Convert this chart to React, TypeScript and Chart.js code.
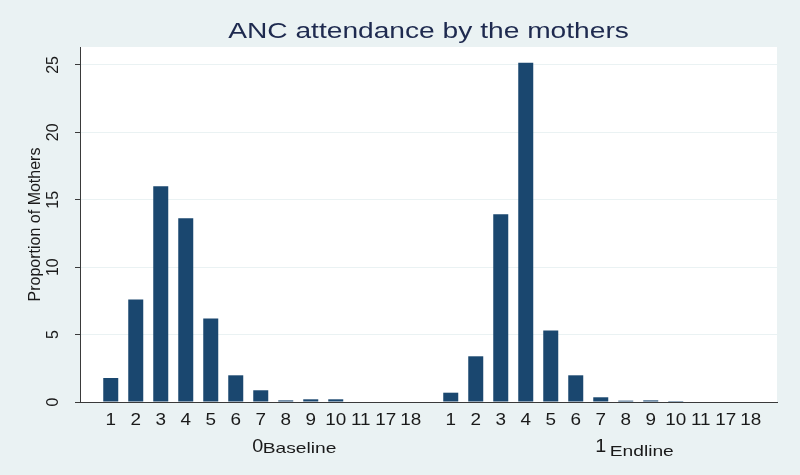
import React, { useEffect, useRef } from 'react';
import { Chart, registerables } from 'chart.js';

Chart.register(...registerables);

// ---- data ----
const categories = ['1', '2', '3', '4', '5', '6', '7', '8', '9', '10', '11', '17', '18'];
const baselineValues = [1.78, 7.6, 16.0, 13.62, 6.2, 1.98, 0.87, 0.12, 0.2, 0.2, 0, 0, 0];
const endlineValues = [0.69, 3.39, 13.93, 25.17, 5.3, 1.98, 0.35, 0.1, 0.12, 0.07, 0, 0, 0];
const groupCodes = ['0', '1'];
const groupNames = ['Baseline', 'Endline'];
const yTickValues = [0, 5, 10, 15, 20, 25];
const chartTitle = 'ANC attendance by the mothers';
const yTitle = 'Proportion of Mothers';

// ---- style ----
const FONT = '"Liberation Sans", Arial, Helvetica, sans-serif';
const BG = '#eaf2f3';
const BAR = '#1a476f';
const AXIS = '#3a3a3a';
const TEXT = '#1a1a1a';
const GAP = 1.6;
const HSCALE = 1.28; // horizontal stretch of the text in the reference

function drawStretched(ctx: CanvasRenderingContext2D, text: string, x: number, y: number, align: CanvasTextAlign, sx: number) {
  ctx.save();
  ctx.translate(x, y);
  ctx.scale(sx, 1);
  ctx.textAlign = align;
  ctx.textBaseline = 'alphabetic';
  ctx.fillText(text, 0, 0);
  ctx.restore();
}

export default function App() {
  const ref = useRef<HTMLCanvasElement>(null);

  useEffect(() => {
    if (!ref.current) return;
    const series = [baselineValues, endlineValues];
    const step = categories.length - 1 + GAP;
    const points: { x: number; y: number }[] = [];
    const tickPos: number[] = [];
    const tickLabels: string[] = [];
    series.forEach((vals, g) =>
      vals.forEach((v, i) => {
        const x = g * step + i;
        points.push({ x, y: v });
        tickPos.push(x);
        tickLabels.push(categories[i]);
      })
    );
    const groupCenters = series.map((vals, g) => g * step + (vals.length - 1) / 2);
    const lastX = tickPos[tickPos.length - 1];

    const bgPlugin = {
      id: 'bg',
      beforeDraw(chart: any) {
        const { ctx, chartArea } = chart;
        ctx.save();
        ctx.fillStyle = BG;
        ctx.fillRect(0, 0, chart.width, chart.height);
        ctx.fillStyle = '#ffffff';
        ctx.fillRect(chartArea.left, chartArea.top, chartArea.right - chartArea.left, chartArea.bottom - chartArea.top);
        ctx.restore();
      },
    };

    const labelPlugin = {
      id: 'labels',
      afterDraw(chart: any) {
        const { ctx, chartArea } = chart;
        const xs = chart.scales.x;
        const ys = chart.scales.y;
        ctx.save();
        // title, centred over the plot region
        ctx.fillStyle = '#1e2a4f';
        ctx.font = `22px ${FONT}`;
        drawStretched(ctx, chartTitle, (chartArea.left + chartArea.right) / 2, 38, 'center', HSCALE);

        ctx.fillStyle = TEXT;
        // rotated y tick labels
        ctx.font = `16px ${FONT}`;
        ctx.textAlign = 'center';
        ctx.textBaseline = 'middle';
        yTickValues.forEach((v) => {
          const y = ys.getPixelForValue(v);
          ctx.save();
          ctx.translate(ys.right - 26, y);
          ctx.rotate(-Math.PI / 2);
          ctx.fillText(String(v), 0, 0);
          ctx.restore();
        });
        // x tick labels
        ctx.font = `16px ${FONT}`;
        tickPos.forEach((v, i) => {
          drawStretched(ctx, tickLabels[i], xs.getPixelForValue(v), chartArea.bottom + 23, 'center', 1.18);
        });
        // group labels
        groupCenters.forEach((c, g) => {
          const px = xs.getPixelForValue(c);
          ctx.font = `18px ${FONT}`;
          drawStretched(ctx, groupCodes[g], px - (g === 0 ? 3 : 0), chartArea.bottom + 50, 'center', 1.1);
          ctx.font = `15px ${FONT}`;
          drawStretched(ctx, groupNames[g], px + (g === 0 ? 2 : 9), chartArea.bottom + (g === 0 ? 51 : 54), 'left', HSCALE);
        });
        ctx.restore();
      },
    };

    const chart = new Chart(ref.current, {
      type: 'bar',
      data: {
        datasets: [
          {
            data: points,
            backgroundColor: BAR,
            borderWidth: 0,
            barPercentage: 0.6,
            categoryPercentage: 1,
          },
        ],
      },
      options: {
        responsive: false,
        animation: false,
        layout: { padding: { left: 0, top: 47, right: 23, bottom: 0 } },
        plugins: {
          legend: { display: false },
          tooltip: { enabled: false },
          title: { display: false },
        },
        scales: {
          x: {
            type: 'linear',
            offset: false,
            min: -1.23,
            max: lastX + 1.05,
            grid: { display: false, drawTicks: false },
            border: { display: true, color: AXIS, width: 1 },
            afterBuildTicks(scale: any) {
              scale.ticks = tickPos.map((v) => ({ value: v }));
            },
            afterFit(scale: any) {
              scale.height = 73;
            },
            ticks: { display: false, autoSkip: false },
          },
          y: {
            min: 0,
            max: 26.33,
            grid: {
              color: (c: any) => (c.tick && c.tick.value === 0 ? 'rgba(0,0,0,0)' : BG),
              lineWidth: 1,
              drawTicks: true,
              tickLength: 5,
              tickColor: AXIS,
            },
            border: { display: true, color: AXIS, width: 1 },
            afterFit(scale: any) {
              scale.width = 80;
            },
            ticks: {
              stepSize: 5,
              includeBounds: false,
              display: false,
            },
            title: {
              display: true,
              text: yTitle,
              color: TEXT,
              font: { family: FONT, size: 16 },
              padding: { top: 26, bottom: 0 },
            },
          },
        },
      } as any,
      plugins: [bgPlugin, labelPlugin],
    });
    return () => chart.destroy();
  }, []);

  return (
    <div style={{ position: 'fixed', left: 0, top: 0, width: 800, height: 475 }}>
      <canvas ref={ref} width={800} height={475} style={{ width: 800, height: 475 }} />
    </div>
  );
}
